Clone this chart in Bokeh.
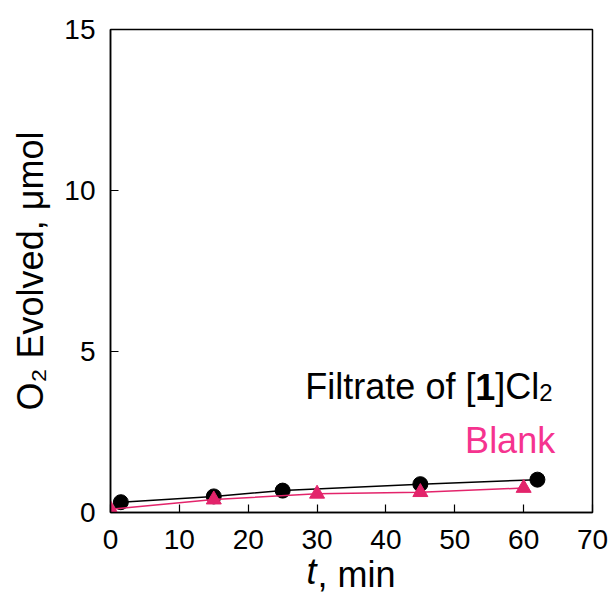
from bokeh.embed import file_html
from bokeh.models import Label, Range1d, FixedTicker, LinearAxis
from bokeh.plotting import figure
from bokeh.resources import INLINE

# O2 evolution vs time
t_filtrate = [1.5, 15, 25, 45, 62]
o2_filtrate = [0.32, 0.50, 0.68, 0.88, 1.02]
t_blank = [0, 15, 30, 45, 60]
o2_blank = [0.10, 0.40, 0.58, 0.63, 0.76]

x_ticks = [0, 10, 20, 30, 40, 50, 60, 70]
y_ticks = [0, 5, 10, 15]

FONT = "Liberation Sans"
PINK = "#E3246B"
BLANK_TEXT = "#F5338F"
NBSP = "\u00a0"

p = figure(
    width=614, height=597,
    x_range=Range1d(0, 70), y_range=Range1d(0, 15),
    output_backend="svg", toolbar_location=None,
    min_border_left=110, min_border_right=22,
    min_border_top=29, min_border_bottom=85,
)
p.grid.visible = False
p.outline_line_color = "black"
p.outline_line_width = 1.5
p.background_fill_color = "white"
p.border_fill_color = "white"

for ax, ticks in ((p.xaxis[0], x_ticks), (p.yaxis[0], y_ticks)):
    ax.ticker = FixedTicker(ticks=ticks)
    ax.major_tick_in = 8
    ax.major_tick_out = 0
    ax.minor_tick_line_color = None
    ax.axis_line_width = 1.5
    ax.major_tick_line_width = 1.2
    ax.major_label_text_font = FONT
    ax.major_label_text_font_size = "28px"
    ax.major_label_text_color = "black"
    ax.axis_label_text_font = FONT
    ax.axis_label_text_font_size = "36px"
    ax.axis_label_text_font_style = "normal"
    ax.axis_label_text_color = "black"
p.xaxis.major_label_standoff = 17
p.yaxis.major_label_standoff = 15

# y title
p.yaxis.axis_label = "O\u2082 Evolved, \u03bcmol"
p.yaxis.axis_label_standoff = 10

# x title: italic "t" on the main axis, ", min" on a bare axis drawn on the same row
p.xaxis.axis_label = "t" + NBSP * 8
p.xaxis.axis_label_text_font_style = "italic"
p.xaxis.axis_label_standoff = -1

min_axis = LinearAxis(
    axis_label=NBSP + ", min",
    ticker=FixedTicker(ticks=[]),
    axis_line_color=None,
    major_tick_line_color=None,
    minor_tick_line_color=None,
    major_label_text_font_size="0px",
    axis_label_text_font=FONT,
    axis_label_text_font_size="36px",
    axis_label_text_font_style="normal",
    axis_label_text_color="black",
    axis_label_standoff=-41,
)
p.add_layout(min_axis, "below")

# series
p.line(t_filtrate, o2_filtrate, line_color="black", line_width=1.5)
p.scatter(t_filtrate, o2_filtrate, marker="circle", size=15,
          fill_color="black", line_color="black")
p.line(t_blank, o2_blank, line_color=PINK, line_width=1.5)
p.scatter(t_blank, o2_blank, marker="triangle", size=15,
          fill_color=PINK, line_color=PINK)

S = 36  # annotation text size in px


def lab(x, y, text, dx=0, dy=0, size=S, style="normal", color="black"):
    p.add_layout(Label(
        x=x, y=y, text=text, x_offset=dx, y_offset=dy,
        text_font=FONT, text_font_size=f"{size}px", text_font_style=style,
        text_color=color, text_baseline="alphabetic", text_align="left",
    ))


# series annotations
lx, ly = 28.3, 3.91
lab(lx, ly, "Filtrate of [")
lab(lx, ly, "1", dx=170, style="bold")
lab(lx, ly, "]Cl", dx=190)
lab(lx, ly, "2", dx=234, dy=-6, size=24)
lab(51.5, 2.23, "Blank", color=BLANK_TEXT)

open("out.html", "w").write(file_html(p, INLINE))
